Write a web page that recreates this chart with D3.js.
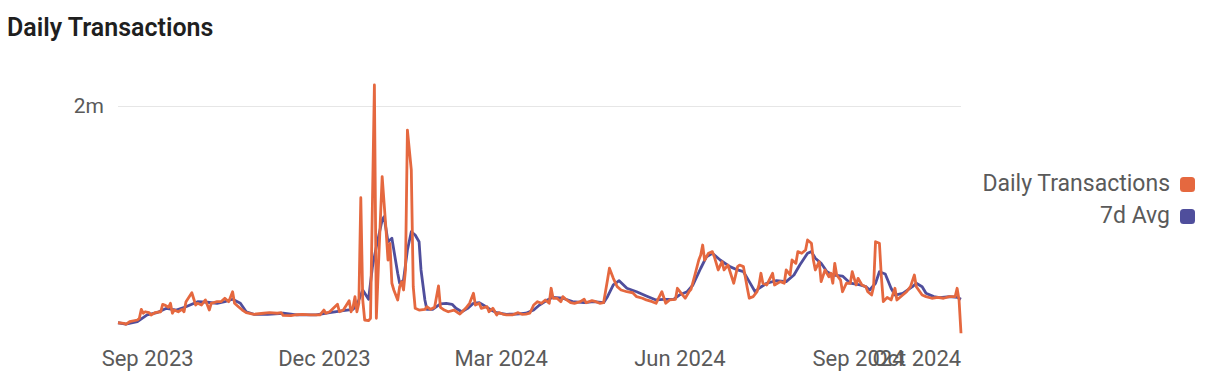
<!DOCTYPE html>
<html><head><meta charset="utf-8">
<script src="https://cdn.jsdelivr.net/npm/d3@7"></script>
<style>body{margin:0;background:#fff;} svg text{font-family:Roboto, "Noto Sans", sans-serif;}</style>
</head><body><svg id="c" width="1210" height="380"></svg>
<script>
const dailyDates = [
"2023-08-17","2023-08-20","2023-08-21","2023-08-23","2023-08-27","2023-08-28","2023-08-29","2023-08-30","2023-08-31",
"2023-09-02","2023-09-03","2023-09-05","2023-09-08","2023-09-09","2023-09-10","2023-09-12","2023-09-13","2023-09-14","2023-09-15","2023-09-17","2023-09-19","2023-09-20","2023-09-21","2023-09-24","2023-09-26","2023-09-27","2023-09-29",
"2023-10-01","2023-10-03","2023-10-04","2023-10-07","2023-10-09","2023-10-11","2023-10-13","2023-10-14","2023-10-15","2023-10-16","2023-10-18","2023-10-20","2023-10-22","2023-10-26","2023-10-31",
"2023-11-03","2023-11-07","2023-11-09","2023-11-10","2023-11-14","2023-11-17","2023-11-20","2023-11-24","2023-11-29",
"2023-12-01","2023-12-02","2023-12-04","2023-12-08","2023-12-09","2023-12-11","2023-12-14","2023-12-15","2023-12-16","2023-12-17","2023-12-18","2023-12-19","2023-12-20","2023-12-21","2023-12-22","2023-12-24","2023-12-25","2023-12-27","2023-12-28","2023-12-29","2023-12-31",
"2024-01-01","2024-01-02","2024-01-03","2024-01-04","2024-01-05","2024-01-06","2024-01-08","2024-01-09","2024-01-10","2024-01-11","2024-01-12","2024-01-13","2024-01-15","2024-01-16","2024-01-17","2024-01-19","2024-01-22","2024-01-23","2024-01-25","2024-01-27","2024-01-29","2024-01-30",
"2024-02-01","2024-02-03","2024-02-06","2024-02-09","2024-02-12","2024-02-14","2024-02-16","2024-02-17","2024-02-19","2024-02-20","2024-02-23","2024-02-24","2024-02-26","2024-02-28","2024-02-29",
"2024-03-02","2024-03-04","2024-03-07","2024-03-10","2024-03-12","2024-03-14","2024-03-16","2024-03-18","2024-03-20","2024-03-22","2024-03-24","2024-03-26","2024-03-27","2024-03-28","2024-03-30",
"2024-04-01","2024-04-02","2024-04-04","2024-04-06","2024-04-08","2024-04-11","2024-04-13","2024-04-14","2024-04-17","2024-04-19","2024-04-21","2024-04-23","2024-04-25","2024-04-26","2024-04-28","2024-04-30",
"2024-05-02","2024-05-05","2024-05-08","2024-05-10","2024-05-13","2024-05-15","2024-05-18","2024-05-20","2024-05-21","2024-05-23","2024-05-25","2024-05-27","2024-05-30","2024-05-31",
"2024-06-02","2024-06-04","2024-06-06","2024-06-07","2024-06-09","2024-06-11","2024-06-12","2024-06-13","2024-06-14","2024-06-16","2024-06-18","2024-06-19","2024-06-21","2024-06-23","2024-06-24","2024-06-26","2024-06-29",
"2024-07-01","2024-07-02","2024-07-04","2024-07-06","2024-07-07","2024-07-09","2024-07-11","2024-07-12","2024-07-13","2024-07-14","2024-07-16","2024-07-19","2024-07-20","2024-07-23","2024-07-25","2024-07-26","2024-07-28","2024-07-29","2024-07-31",
"2024-08-01","2024-08-03","2024-08-05","2024-08-06","2024-08-08","2024-08-09","2024-08-10","2024-08-12","2024-08-13","2024-08-15","2024-08-17","2024-08-18","2024-08-19","2024-08-20","2024-08-21","2024-08-23","2024-08-24","2024-08-26","2024-08-28","2024-08-29","2024-08-31",
"2024-09-01","2024-09-03","2024-09-05","2024-09-06","2024-09-08","2024-09-09","2024-09-10","2024-09-12","2024-09-13","2024-09-14","2024-09-16","2024-09-18","2024-09-20","2024-09-21","2024-09-24","2024-09-26","2024-09-28","2024-09-30",
"2024-10-01","2024-10-04","2024-10-06","2024-10-09","2024-10-12","2024-10-15","2024-10-18","2024-10-21","2024-10-22","2024-10-23","2024-10-24"
];
const dailyValues = [
107000,102000,93000,116000,131000,146000,224000,190000,203000,
195000,175000,195000,203000,268000,262000,242000,277000,190000,218000,203000,224000,203000,291000,369000,262000,277000,262000,
306000,218000,277000,291000,291000,321000,291000,335000,378000,277000,247000,218000,195000,181000,190000,
195000,190000,195000,172000,169000,177000,181000,175000,175000,
218000,190000,203000,268000,203000,218000,300000,203000,242000,335000,203000,277000,1199000,306000,131000,125000,146000,2184000,146000,568000,1383000,
1150000,917000,655000,801000,452000,393000,306000,422000,466000,393000,568000,1790000,1441000,422000,233000,218000,224000,247000,224000,242000,428000,242000,
218000,203000,218000,183000,233000,277000,364000,262000,277000,233000,247000,203000,233000,175000,195000,
183000,175000,175000,195000,181000,183000,190000,262000,291000,277000,306000,277000,408000,321000,321000,
291000,335000,306000,282000,277000,291000,312000,282000,300000,291000,277000,282000,480000,583000,495000,422000,
393000,378000,369000,335000,321000,306000,291000,277000,312000,378000,277000,306000,312000,408000,
364000,321000,378000,399000,524000,655000,699000,786000,655000,714000,728000,684000,568000,640000,568000,611000,452000,
597000,611000,597000,408000,321000,335000,378000,437000,539000,452000,437000,539000,437000,466000,452000,568000,524000,655000,626000,
728000,714000,742000,830000,801000,655000,568000,640000,466000,568000,509000,539000,452000,626000,524000,480000,378000,452000,452000,553000,437000,
495000,437000,422000,378000,349000,422000,815000,801000,509000,291000,329000,306000,408000,306000,349000,378000,422000,524000,
422000,349000,335000,321000,329000,321000,335000,335000,408000,306000,15000
];
const avgDates = [
"2023-08-17","2023-08-21","2023-08-27","2023-09-01","2023-09-06","2023-09-11","2023-09-16","2023-09-21","2023-09-27",
"2023-10-02","2023-10-07","2023-10-11","2023-10-15","2023-10-19","2023-10-22","2023-10-26",
"2023-11-02","2023-11-10","2023-11-17","2023-11-27",
"2023-12-04","2023-12-11","2023-12-16","2023-12-18","2023-12-21","2023-12-24","2023-12-26","2023-12-28","2023-12-31",
"2024-01-01","2024-01-03","2024-01-05","2024-01-06","2024-01-08","2024-01-09","2024-01-11","2024-01-13","2024-01-15","2024-01-17","2024-01-19","2024-01-20","2024-01-22","2024-01-23","2024-01-26","2024-01-30",
"2024-02-02","2024-02-05","2024-02-07","2024-02-10","2024-02-13","2024-02-16","2024-02-19","2024-02-21","2024-02-25","2024-02-28",
"2024-03-04","2024-03-09","2024-03-14","2024-03-18","2024-03-21","2024-03-25","2024-03-28",
"2024-04-02","2024-04-07","2024-04-13","2024-04-18","2024-04-23","2024-04-25","2024-04-28",
"2024-05-01","2024-05-05","2024-05-10","2024-05-15","2024-05-20","2024-05-24","2024-05-29",
"2024-06-01","2024-06-05","2024-06-08","2024-06-12","2024-06-15","2024-06-18","2024-06-22","2024-06-27",
"2024-07-01","2024-07-04","2024-07-07","2024-07-10","2024-07-12","2024-07-16","2024-07-21","2024-07-26","2024-07-30",
"2024-08-02","2024-08-06","2024-08-08","2024-08-10","2024-08-13","2024-08-16","2024-08-19","2024-08-24","2024-08-28",
"2024-09-02","2024-09-05","2024-09-07","2024-09-10","2024-09-12","2024-09-15","2024-09-18","2024-09-20","2024-09-24","2024-09-29",
"2024-10-01","2024-10-04","2024-10-06","2024-10-10","2024-10-13","2024-10-18","2024-10-22","2024-10-24"
];
const avgValues = [
107000,96000,116000,175000,195000,233000,218000,247000,291000,
286000,277000,291000,312000,277000,203000,181000,
181000,190000,175000,175000,
195000,212000,224000,262000,393000,312000,597000,771000,1004000,
1033000,815000,845000,742000,539000,452000,480000,742000,902000,873000,815000,568000,306000,224000,224000,271000,
277000,268000,233000,203000,233000,277000,282000,262000,218000,195000,
181000,183000,190000,218000,262000,306000,329000,
321000,291000,282000,291000,282000,335000,437000,
474000,408000,378000,341000,306000,312000,312000,
349000,378000,437000,583000,684000,714000,655000,597000,
568000,553000,466000,378000,408000,452000,474000,466000,524000,
611000,714000,728000,670000,626000,553000,524000,515000,452000,
437000,422000,393000,452000,553000,533000,408000,349000,364000,422000,
452000,422000,364000,335000,326000,335000,329000,312000
];
const xTickDates = ["2023-09-01","2023-12-01","2024-03-01","2024-06-01","2024-09-01","2024-10-01"];
const yTickValues = [2000000];
const seriesNames = ["Daily Transactions","7d Avg"];
const seriesColors = ["#E5683F","#4F4E9C"];
const chartTitle = "Daily Transactions";

const parse = d3.timeParse("%Y-%m-%d");
const daily = dailyDates.map((d,i)=>({date:parse(d), v:dailyValues[i]}));
const avg = avgDates.map((d,i)=>({date:parse(d), v:avgValues[i]}));

const svg = d3.select("#c");
const plotLeft = 118, plotRight = 961, plotTop = 106, plotBottom = 335;
const x = d3.scaleTime().domain(d3.extent(daily, d=>d.date)).range([plotLeft, plotRight]);
const y = d3.scaleLinear().domain([0, 2000000]).range([plotBottom, plotTop]);

svg.append("text").attr("x",7).attr("y",36).text(chartTitle)
  .style("font-size","25px").style("font-weight","600").attr("fill","#1f1f1f");

const yAxis = svg.append("g").attr("transform",`translate(${plotLeft},0)`)
  .call(d3.axisLeft(y).tickValues(yTickValues).tickSize(-(plotRight-plotLeft)).tickPadding(14)
    .tickFormat(d=>(d/1e6)+"m"));
yAxis.select(".domain").remove();
yAxis.selectAll(".tick line").attr("stroke","#e6e6e6").attr("stroke-width",1.2);
yAxis.selectAll(".tick text").attr("fill","#5a5a5a").style("font-size","21px");

const xAxis = svg.append("g").attr("transform",`translate(0,${plotBottom})`)
  .call(d3.axisBottom(x).tickValues(xTickDates.map(parse)).tickSize(0).tickPadding(15)
    .tickFormat(d3.timeFormat("%b %Y")));
xAxis.select(".domain").remove();
xAxis.selectAll(".tick text").attr("fill","#5a5a5a").style("font-size","22px");

const line = d3.line().x(d=>x(d.date)).y(d=>y(d.v)).curve(d3.curveLinear);
svg.append("path").datum(avg).attr("d",line).attr("fill","none")
  .attr("stroke",seriesColors[1]).attr("stroke-width",2.8).attr("stroke-linejoin","round");
svg.append("path").datum(daily).attr("d",line).attr("fill","none")
  .attr("stroke",seriesColors[0]).attr("stroke-width",2.8).attr("stroke-linejoin","round");

const legend = svg.append("g");
seriesNames.forEach((name,i)=>{
  const by = 191 + i*32;
  legend.append("text").attr("x",1170).attr("y",by).attr("text-anchor","end")
    .attr("fill","#5a5a5a").style("font-size","23px").text(name);
  legend.append("rect").attr("x",1180).attr("y",by-14).attr("width",15).attr("height",15)
    .attr("rx",3.5).attr("fill",seriesColors[i]);
});
</script></body></html>
